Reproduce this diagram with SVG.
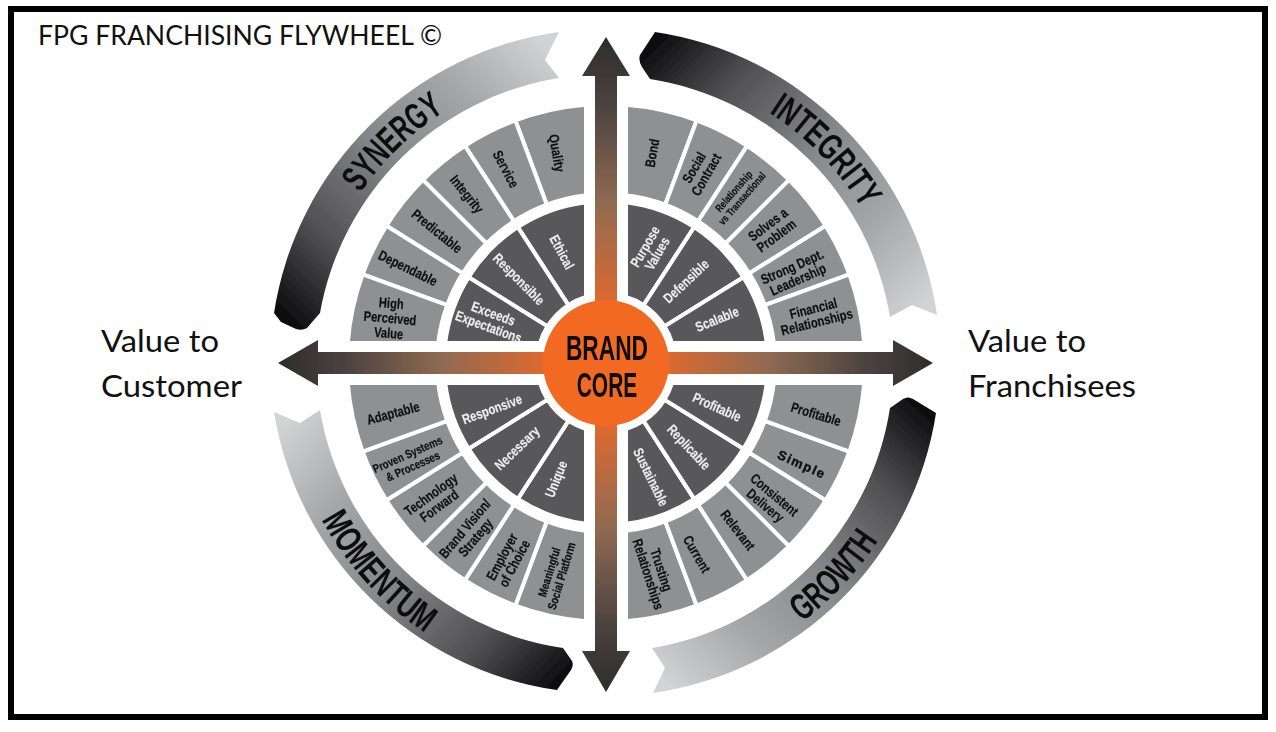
<svg xmlns="http://www.w3.org/2000/svg" width="1276" height="732" viewBox="0 0 1276 732">
<style>
text{font-family:"Liberation Sans",Arial,sans-serif}
.cap{font-family:Lato,"Liberation Sans",sans-serif;fill:#111}
.seg{fill:#8f9092;stroke:#fff;stroke-width:4}
.drk{fill:#58585a;stroke:#fff;stroke-width:4}
.lo,.li{font-weight:700;font-size:14px;text-anchor:middle}
.lo{fill:#111;stroke:#111;stroke-width:.2}.li{fill:#eee;stroke:#eee;stroke-width:.15}
.rib{font-family:"Liberation Sans Narrow","Liberation Sans",sans-serif;font-weight:700;font-size:37px;fill:#111}
</style>
<defs>
<filter id="soft" x="-5%" y="-5%" width="110%" height="110%"><feGaussianBlur stdDeviation=".4"/></filter>
<linearGradient id="gv" gradientUnits="userSpaceOnUse" x1="0" y1="37" x2="0" y2="692"><stop offset="0" stop-color="#2e2c2c"/><stop offset=".1" stop-color="#4a4240"/><stop offset=".25" stop-color="#8f6a52"/><stop offset=".42" stop-color="#e4692c"/><stop offset=".5" stop-color="#f26a24"/><stop offset=".58" stop-color="#e4692c"/><stop offset=".75" stop-color="#8f6a52"/><stop offset=".9" stop-color="#4a4240"/><stop offset="1" stop-color="#2e2c2c"/></linearGradient>
<linearGradient id="gh" gradientUnits="userSpaceOnUse" x1="278" y1="0" x2="933" y2="0"><stop offset="0" stop-color="#2e2c2c"/><stop offset=".1" stop-color="#4a4240"/><stop offset=".25" stop-color="#8f6a52"/><stop offset=".42" stop-color="#e4692c"/><stop offset=".5" stop-color="#f26a24"/><stop offset=".58" stop-color="#e4692c"/><stop offset=".75" stop-color="#8f6a52"/><stop offset=".9" stop-color="#4a4240"/><stop offset="1" stop-color="#2e2c2c"/></linearGradient>
<linearGradient id="gs" gradientUnits="userSpaceOnUse" x1="295" y1="325" x2="558" y2="55"><stop offset="0" stop-color="#0e0e0f"/><stop offset=".22" stop-color="#505052"/><stop offset=".5" stop-color="#86878a"/><stop offset=".75" stop-color="#a5a6a8"/><stop offset="1" stop-color="#d2d3d5"/></linearGradient>
<linearGradient id="gi" gradientUnits="userSpaceOnUse" x1="645" y1="55" x2="915" y2="315"><stop offset="0" stop-color="#0e0e0f"/><stop offset=".22" stop-color="#505052"/><stop offset=".5" stop-color="#86878a"/><stop offset=".75" stop-color="#a5a6a8"/><stop offset="1" stop-color="#d2d3d5"/></linearGradient>
<linearGradient id="gg" gradientUnits="userSpaceOnUse" x1="912" y1="400" x2="655" y2="672"><stop offset="0" stop-color="#0e0e0f"/><stop offset=".22" stop-color="#505052"/><stop offset=".5" stop-color="#86878a"/><stop offset=".75" stop-color="#a5a6a8"/><stop offset="1" stop-color="#d2d3d5"/></linearGradient>
<linearGradient id="gm" gradientUnits="userSpaceOnUse" x1="570" y1="668" x2="295" y2="412"><stop offset="0" stop-color="#0e0e0f"/><stop offset=".22" stop-color="#505052"/><stop offset=".5" stop-color="#86878a"/><stop offset=".75" stop-color="#a5a6a8"/><stop offset="1" stop-color="#d2d3d5"/></linearGradient>
<path id="ps" d="M327,256A299,299 0 0 1 508.7,80.3"/>
<path id="pi" d="M713,84A299,299 0 0 1 888.7,265.6"/>
<path id="pg" d="M727.7,664.3A325,325 0 0 0 915.1,463.4"/>
<path id="pm" d="M291.4,444.4A325,325 0 0 0 497.5,669.3"/>
</defs>
<rect width="1276" height="732" fill="#fff"/>
<rect id="frame" x="11" y="9" width="1254" height="708" fill="none" stroke="#000" stroke-width="6"/>
<text class="cap" x="38" y="45" font-size="27" textLength="404" lengthAdjust="spacingAndGlyphs">FPG FRANCHISING FLYWHEEL ©</text>
<g class="cap" font-size="31">
<text class="cap" x="101" y="352" textLength="118" lengthAdjust="spacingAndGlyphs">Value to</text>
<text class="cap" x="101" y="397" textLength="141" lengthAdjust="spacingAndGlyphs">Customer</text>
<text class="cap" x="968" y="352" textLength="118" lengthAdjust="spacingAndGlyphs">Value to</text>
<text class="cap" x="968" y="397" textLength="168" lengthAdjust="spacingAndGlyphs">Franchisees</text>
</g>
<g filter="url(#soft)">
<g id="connectors">
<path fill="url(#gv)" d="M606,37L630,76H617V363H595V76H582Z"/>
<path fill="url(#gv)" d="M606,692L630,651H617V363H595V651H582Z"/>
<path fill="url(#gh)" d="M278,363L318,386V374H606V352H318V340Z"/>
<path fill="url(#gh)" d="M933,363L893,386V374H606V352H893V340Z"/>
</g>
<g id="ribbon-synergy"><path fill="url(#gs)" d="M274,313A335,335 0 0 1 559,32L545,60L559,78A289,289 0 0 0 320,313L307,328Q302,331 296,329L281,322Z"/><text class="rib" textLength="118" lengthAdjust="spacingAndGlyphs"><textPath href="#ps" startOffset="50%" text-anchor="middle">SYNERGY</textPath></text></g>
<g id="ribbon-integrity"><path fill="url(#gi)" d="M655,32A335,335 0 0 1 937,315L912,305L890,317A288,288 0 0 0 650,79L642,67Q638,60 640,55Z"/><text class="rib" textLength="135" lengthAdjust="spacingAndGlyphs"><textPath href="#pi" startOffset="50%" text-anchor="middle">INTEGRITY</textPath></text></g>
<g id="ribbon-growth"><path fill="url(#gg)" d="M936,413A334,334 0 0 1 653,693L665,668L652,648A288,288 0 0 0 890,408L903,399Q908,396 913,399Z"/><text class="rib" textLength="112" lengthAdjust="spacingAndGlyphs"><textPath href="#pg" startOffset="50%" text-anchor="middle">GROWTH</textPath></text></g>
<g id="ribbon-momentum"><path fill="url(#gm)" d="M274,412A334,334 0 0 0 557,690L571,670Q574,665 572,661L563,648A288,288 0 0 1 320,410L300,423Z"/><text class="rib" textLength="155" lengthAdjust="spacingAndGlyphs"><textPath href="#pm" startOffset="50%" text-anchor="middle">MOMENTUM</textPath></text></g>
<g id="brand-core"><circle cx="606" cy="363" r="63" fill="#f26a24"/>
<text x="0" y="0" font-weight="700" font-size="35" fill="#111" text-anchor="middle" transform="translate(607 360) scale(.65 1)">BRAND</text>
<text x="0" y="0" font-weight="700" font-size="35" fill="#111" text-anchor="middle" transform="translate(607 397) scale(.6 1)">CORE</text></g>
<g id="wheel" transform="translate(606 363)">
<g id="tl-quality"><path class="seg" d="M-20,-258.2A259,259 0 0 0 -90.7,-242.6L-59.2,-158.3A169,169 0 0 1 -20,-167.8Z"/><text class="lo" transform="translate(-49 -210) rotate(80) scale(.8 1)" y="5">Quality</text></g>
<g id="tl-service"><path class="seg" d="M-90.7,-242.6A259,259 0 0 0 -141.1,-217.2L-92,-141.7A169,169 0 0 1 -59.2,-158.3Z"/><text class="lo" transform="translate(-100 -194) rotate(62) scale(.8 1)" y="5">Service</text></g>
<g id="tl-integrity"><path class="seg" d="M-141.1,-217.2A259,259 0 0 0 -183.1,-183.1L-119.5,-119.5A169,169 0 0 1 -92,-141.7Z"/><text class="lo" transform="translate(-139 -169) rotate(51) scale(.8 1)" y="5">Integrity</text></g>
<g id="tl-predictable"><path class="seg" d="M-183.1,-183.1A259,259 0 0 0 -219.6,-137.2L-143.3,-89.6A169,169 0 0 1 -119.5,-119.5Z"/><text class="lo" transform="translate(-169 -132) rotate(39) scale(.8 1)" y="5">Predictable</text></g>
<g id="tl-dependable"><path class="seg" d="M-219.6,-137.2A259,259 0 0 0 -243.4,-88.6L-158.8,-57.8A169,169 0 0 1 -143.3,-89.6Z"/><text class="lo" transform="translate(-198 -95) rotate(26) scale(.8 1)" y="5">Dependable</text></g>
<g id="tl-high"><path class="seg" d="M-243.4,-88.6A259,259 0 0 0 -258.2,-20L-167.8,-20A169,169 0 0 1 -158.8,-57.8Z"/><text class="lo" transform="translate(-216 -45) rotate(5) scale(.8 1)"><tspan x="0" y="-10">High</tspan><tspan x="0" y="5">Perceived</tspan><tspan x="0" y="20">Value</tspan></text></g>
<g id="tl-ethical"><path class="drk" d="M-20,-160.8A162,162 0 0 0 -88.2,-135.9L-37.6,-57.9A69,69 0 0 1 -20,-66Z"/><text class="li" transform="translate(-44 -111) rotate(62) scale(.8 1)" y="5">Ethical</text></g>
<g id="tl-responsible"><path class="drk" d="M-88.2,-135.9A162,162 0 0 0 -137.4,-85.8L-58.5,-36.6A69,69 0 0 1 -37.6,-57.9Z"/><text class="li" transform="translate(-87 -84) rotate(45) scale(.8 1)" y="5">Responsible</text></g>
<g id="tl-exceeds"><path class="drk" d="M-137.4,-85.8A162,162 0 0 0 -160.8,-20L-66,-20A69,69 0 0 1 -58.5,-36.6Z"/><text class="li" transform="translate(-115 -43) rotate(20) scale(.8 1)"><tspan x="0" y="-2">Exceeds</tspan><tspan x="0" y="12">Expectations</tspan></text></g>
<g id="tr-bond"><path class="seg" d="M20,-258.2A259,259 0 0 1 90.7,-242.6L59.2,-158.3A169,169 0 0 0 20,-167.8Z"/><text class="lo" transform="translate(46 -210) rotate(-80) scale(.8 1)" y="5">Bond</text></g>
<g id="tr-social"><path class="seg" d="M90.7,-242.6A259,259 0 0 1 141.1,-217.2L92,-141.7A169,169 0 0 0 59.2,-158.3Z"/><text class="lo" transform="translate(94 -192) rotate(-60) scale(.8 1)"><tspan x="0" y="-2">Social</tspan><tspan x="0" y="12">Contract</tspan></text></g>
<g id="tr-relationship"><path class="seg" d="M141.1,-217.2A259,259 0 0 1 183.1,-183.1L119.5,-119.5A169,169 0 0 0 92,-141.7Z"/><text class="lo" style="font-size:10.5px" transform="translate(132 -168) rotate(-49) scale(.8 1)"><tspan x="0" y="-2">Relationship</tspan><tspan x="0" y="9">vs Transactional</tspan></text></g>
<g id="tr-solves"><path class="seg" d="M183.1,-183.1A259,259 0 0 1 219.6,-137.2L143.3,-89.6A169,169 0 0 0 119.5,-119.5Z"/><text class="lo" transform="translate(166 -133) rotate(-37) scale(.8 1)"><tspan x="0" y="-2">Solves a</tspan><tspan x="0" y="12">Problem</tspan></text></g>
<g id="tr-strong"><path class="seg" d="M219.6,-137.2A259,259 0 0 1 243.4,-88.6L158.8,-57.8A169,169 0 0 0 143.3,-89.6Z"/><text class="lo" transform="translate(189 -90) rotate(-24) scale(.8 1)"><tspan x="0" y="-2">Strong Dept.</tspan><tspan x="0" y="12">Leadership</tspan></text></g>
<g id="tr-financial"><path class="seg" d="M243.4,-88.6A259,259 0 0 1 258.2,-20L167.8,-20A169,169 0 0 0 158.8,-57.8Z"/><text class="lo" transform="translate(209 -48) rotate(-14) scale(.8 1)"><tspan x="0" y="-2">Financial</tspan><tspan x="0" y="12">Relationships</tspan></text></g>
<g id="tr-purpose"><path class="drk" d="M20,-160.8A162,162 0 0 1 88.2,-135.9L37.6,-57.9A69,69 0 0 0 20,-66Z"/><text class="li" transform="translate(45 -113) rotate(-60) scale(.8 1)"><tspan x="0" y="-2">Purpose</tspan><tspan x="0" y="12">Values</tspan></text></g>
<g id="tr-defensible"><path class="drk" d="M88.2,-135.9A162,162 0 0 1 137.4,-85.8L58.5,-36.6A69,69 0 0 0 37.6,-57.9Z"/><text class="li" transform="translate(80 -82) rotate(-43) scale(.8 1)" y="5">Defensible</text></g>
<g id="tr-scalable"><path class="drk" d="M137.4,-85.8A162,162 0 0 1 160.8,-20L66,-20A69,69 0 0 0 58.5,-36.6Z"/><text class="li" transform="translate(111 -44) rotate(-22) scale(.8 1)" y="5">Scalable</text></g>
<g id="bl-meaningful"><path class="seg" d="M-20,258.2A259,259 0 0 1 -90.7,242.6L-59.2,158.3A169,169 0 0 0 -20,167.8Z"/><text class="lo" style="font-size:12px" transform="translate(-51 211) rotate(-73) scale(.8 1)"><tspan x="0" y="-2">Meaningful</tspan><tspan x="0" y="11">Social Platform</tspan></text></g>
<g id="bl-employer"><path class="seg" d="M-90.7,242.6A259,259 0 0 1 -141.1,217.2L-92,141.7A169,169 0 0 0 -59.2,158.3Z"/><text class="lo" transform="translate(-98 197) rotate(-62) scale(.8 1)"><tspan x="0" y="-2">Employer</tspan><tspan x="0" y="12">of Choice</tspan></text></g>
<g id="bl-brand"><path class="seg" d="M-141.1,217.2A259,259 0 0 1 -183.1,183.1L-119.5,119.5A169,169 0 0 0 -92,141.7Z"/><text class="lo" transform="translate(-136 170) rotate(-50) scale(.8 1)"><tspan x="0" y="-2">Brand Vision/</tspan><tspan x="0" y="12">Strategy</tspan></text></g>
<g id="bl-technology"><path class="seg" d="M-183.1,183.1A259,259 0 0 1 -219.6,137.2L-143.3,89.6A169,169 0 0 0 -119.5,119.5Z"/><text class="lo" transform="translate(-171 137) rotate(-36) scale(.8 1)"><tspan x="0" y="-2">Technology</tspan><tspan x="0" y="12">Forward</tspan></text></g>
<g id="bl-proven"><path class="seg" d="M-219.6,137.2A259,259 0 0 1 -243.4,88.6L-158.8,57.8A169,169 0 0 0 -143.3,89.6Z"/><text class="lo" style="font-size:12px" transform="translate(-196 97) rotate(-24) scale(.8 1)"><tspan x="0" y="-2">Proven Systems</tspan><tspan x="0" y="11">&amp; Processes</tspan></text></g>
<g id="bl-adaptable"><path class="seg" d="M-243.4,88.6A259,259 0 0 1 -258.2,20L-167.8,20A169,169 0 0 0 -158.8,57.8Z"/><text class="lo" transform="translate(-213 50) rotate(-15) scale(.8 1)" y="5">Adaptable</text></g>
<g id="bl-unique"><path class="drk" d="M-20,160.8A162,162 0 0 1 -88.2,135.9L-37.6,57.9A69,69 0 0 0 -20,66Z"/><text class="li" transform="translate(-50 116) rotate(-68) scale(.8 1)" y="5">Unique</text></g>
<g id="bl-necessary"><path class="drk" d="M-88.2,135.9A162,162 0 0 1 -137.4,85.8L-58.5,36.6A69,69 0 0 0 -37.6,57.9Z"/><text class="li" transform="translate(-89 85) rotate(-44) scale(.8 1)" y="5">Necessary</text></g>
<g id="bl-responsive"><path class="drk" d="M-137.4,85.8A162,162 0 0 1 -160.8,20L-66,20A69,69 0 0 0 -58.5,36.6Z"/><text class="li" transform="translate(-114 46) rotate(-20) scale(.8 1)" y="5">Responsive</text></g>
<g id="br-trusting"><path class="seg" d="M20,258.2A259,259 0 0 0 90.7,242.6L59.2,158.3A169,169 0 0 1 20,167.8Z"/><text class="lo" transform="translate(49 209) rotate(72) scale(.8 1)"><tspan x="0" y="-2">Trusting</tspan><tspan x="0" y="12">Relationships</tspan></text></g>
<g id="br-current"><path class="seg" d="M90.7,242.6A259,259 0 0 0 141.1,217.2L92,141.7A169,169 0 0 1 59.2,158.3Z"/><text class="lo" transform="translate(91 191) rotate(60) scale(.8 1)" y="5">Current</text></g>
<g id="br-relevant"><path class="seg" d="M141.1,217.2A259,259 0 0 0 183.1,183.1L119.5,119.5A169,169 0 0 1 92,141.7Z"/><text class="lo" transform="translate(132 167) rotate(52) scale(.8 1)" y="5">Relevant</text></g>
<g id="br-consistent"><path class="seg" d="M183.1,183.1A259,259 0 0 0 219.6,137.2L143.3,89.6A169,169 0 0 1 119.5,119.5Z"/><text class="lo" transform="translate(164 137) rotate(40) scale(.8 1)"><tspan x="0" y="-2">Consistent</tspan><tspan x="0" y="12">Delivery</tspan></text></g>
<g id="br-simple"><path class="seg" d="M219.6,137.2A259,259 0 0 0 243.4,88.6L158.8,57.8A169,169 0 0 1 143.3,89.6Z"/><text class="lo" style="font-size:13px;letter-spacing:1.5px;stroke-width:.4" transform="translate(196 101) rotate(24)" y="5">Simple</text></g>
<g id="br-profitable"><path class="seg" d="M243.4,88.6A259,259 0 0 0 258.2,20L167.8,20A169,169 0 0 1 158.8,57.8Z"/><text class="lo" transform="translate(210 51) rotate(17) scale(.8 1)" y="5">Profitable</text></g>
<g id="br-sustainable"><path class="drk" d="M20,160.8A162,162 0 0 0 88.2,135.9L37.6,57.9A69,69 0 0 1 20,66Z"/><text class="li" transform="translate(45 114) rotate(64) scale(.8 1)" y="5">Sustainable</text></g>
<g id="br-replicable"><path class="drk" d="M88.2,135.9A162,162 0 0 0 137.4,85.8L58.5,36.6A69,69 0 0 1 37.6,57.9Z"/><text class="li" transform="translate(83 84) rotate(47) scale(.8 1)" y="5">Replicable</text></g>
<g id="br-profitable-core"><path class="drk" d="M137.4,85.8A162,162 0 0 0 160.8,20L66,20A69,69 0 0 1 58.5,36.6Z"/><text class="li" transform="translate(111 44) rotate(24) scale(.8 1)" y="5">Profitable</text></g>
</g>
</g>
</svg>
